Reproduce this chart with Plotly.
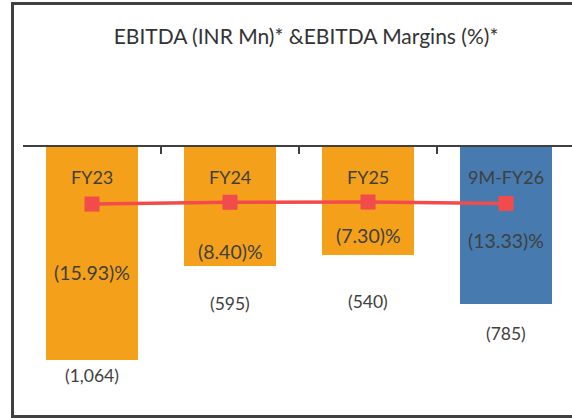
import plotly.graph_objects as go

categories = ["FY23", "FY24", "FY25", "9M-FY26"]
ebitda = [-1064, -595, -540, -785]
ebitda_labels = ["(1,064)", "(595)", "(540)", "(785)"]
margins = [-15.93, -8.40, -7.30, -13.33]
margin_labels = ["(15.93)%", "(8.40)%", "(7.30)%", "(13.33)%"]

bar_colors = ["#F5A01A", "#F5A01A", "#F5A01A", "#477AAE"]
value_label_shift = [-16, -37, -46, -29]
margin_label_shift = [-68, -49, -33, -37]

W, H = 572, 418
PLOT_L, PLOT_T, PLOT_B = 23, 147, 400


def px(x):
    return x / W


def py(y):
    return (H - y) / H


FONT = "Lato"
TXT = "#404040"
BORDER = "#404040"

fig = go.Figure()
fig.add_trace(go.Bar(
    x=categories, y=ebitda, marker_color=bar_colors, marker_line_width=0,
    width=0.667, hoverinfo="skip", showlegend=False,
))
fig.add_trace(go.Scatter(
    x=categories, y=margins, yaxis="y2", mode="lines+markers",
    line=dict(color="#F24B4B", width=3.5),
    marker=dict(symbol="square", size=15, color="#F24B4B"),
    showlegend=False, hoverinfo="skip",
))
# empty frame subplot whose axis lines draw the chart border (left, top, bottom)
fig.add_trace(go.Scatter(
    x=[0.5], y=[0.5], xaxis="x2", yaxis="y3", mode="markers",
    marker=dict(opacity=0), showlegend=False, hoverinfo="skip",
))

annotations = []
for c in categories:
    annotations.append(dict(x=c, y=0, xref="x", yref="y", text=c, showarrow=False,
                            yshift=-30, font=dict(family=FONT, size=18, color=TXT)))
for c, v, t, s in zip(categories, ebitda, ebitda_labels, value_label_shift):
    annotations.append(dict(x=c, y=v, xref="x", yref="y", text=t, showarrow=False,
                            yshift=s, font=dict(family=FONT, size=17.5, color=TXT)))
for c, v, t, s in zip(categories, margins, margin_labels, margin_label_shift):
    annotations.append(dict(x=c, y=v, xref="x", yref="y2", text=t, showarrow=False,
                            yshift=s, font=dict(family=FONT, size=19.5, color=TXT)))

fig.update_layout(
    width=W, height=H,
    margin=dict(l=0, r=0, t=0, b=0, pad=0),
    paper_bgcolor="white", plot_bgcolor="rgba(0,0,0,0)",
    title=dict(text="EBITDA (INR Mn)* &EBITDA Margins (%)*", x=306 / W, xanchor="center",
               y=1 - 37 / H, yanchor="middle", font=dict(family=FONT, size=21, color="#333333")),
    xaxis=dict(domain=[px(PLOT_L), 1], side="top", showline=True, linecolor="#404040",
               linewidth=1.5, ticks="inside", tickvals=[-0.5, 0.5, 1.5, 2.5, 3.5], ticklen=7,
               tickcolor="#404040", tickwidth=1.5, showticklabels=False,
               range=[-0.5, 3.478], showgrid=False, zeroline=False, fixedrange=True),
    yaxis=dict(domain=[py(PLOT_B), py(PLOT_T)], range=[-1264, 0], visible=False,
               showgrid=False, zeroline=False),
    yaxis2=dict(range=[-860.7, 229.8], overlaying="y", visible=False, showgrid=False,
                zeroline=False),
    xaxis2=dict(domain=[px(14), 1], anchor="y3", range=[0, 1], showline=True, mirror=True,
                linecolor=BORDER, linewidth=2.5, showticklabels=False, ticks="",
                showgrid=False, zeroline=False),
    yaxis3=dict(domain=[py(414.5), py(4.5)], anchor="x2", range=[0, 1], showline=True,
                mirror=False, linecolor=BORDER, linewidth=2.5, showticklabels=False,
                ticks="", showgrid=False, zeroline=False),
    annotations=annotations, bargap=0,
)

fig.write_html("out.html", config={"displayModeBar": False},
               post_script="document.body.style.margin='0';document.body.style.overflow='hidden';")
